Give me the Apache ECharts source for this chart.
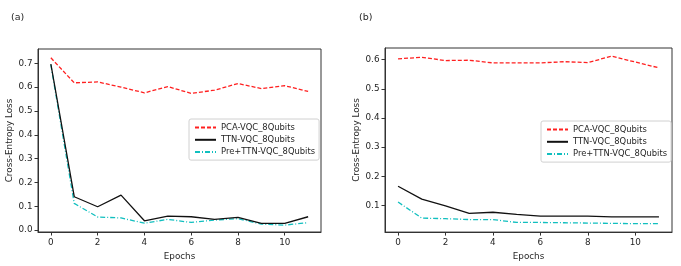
<!DOCTYPE html>
<html><head><meta charset="utf-8">
<script src="https://cdn.jsdelivr.net/npm/echarts@6/dist/echarts.min.js"></script>
<style>html,body{margin:0;padding:0;background:#fff}#c{width:681px;height:266px}</style>
</head><body><div id="c"></div>
<script>
const epochs = [0,1,2,3,4,5,6,7,8,9,10,11];
const xTicks = [0,2,4,6,8,10];
const seriesNames = ['PCA-VQC_8Qubits','TTN-VQC_8Qubits','Pre+TTN-VQC_8Qubits'];
// panel (a)
const aPCA = [0.723,0.618,0.622,0.600,0.576,0.602,0.574,0.587,0.615,0.594,0.606,0.582];
const aTTN = [0.697,0.140,0.098,0.147,0.039,0.059,0.056,0.045,0.053,0.028,0.028,0.056];
const aPre = [0.693,0.112,0.055,0.051,0.029,0.045,0.032,0.042,0.048,0.025,0.021,0.031];
const aYTicks = [0,0.1,0.2,0.3,0.4,0.5,0.6,0.7];
// panel (b)
const bPCA = [0.603,0.608,0.597,0.598,0.589,0.589,0.589,0.593,0.590,0.612,0.592,0.572];
const bTTN = [0.166,0.122,0.099,0.073,0.077,0.070,0.064,0.064,0.064,0.061,0.061,0.061];
const bPre = [0.112,0.057,0.055,0.052,0.052,0.042,0.042,0.041,0.040,0.039,0.038,0.038];
const bYTicks = [0.1,0.2,0.3,0.4,0.5,0.6];

const FONT = 'DejaVu Sans';
const TXT = '#262626';
const FS = 8.8;
const LFS = 8.4;
const colors = ['#ff2020','#111111','#11bfbf'];
const dashes = [[4,2],'solid',[5,2,1,2]];

function pair(vals){ return epochs.map((e,i)=>[e,vals[i]]); }

function xAxis(gi, gap){
  return {type:'value', gridIndex:gi, min:-0.55, max:11.55,
    name:'Epochs', nameLocation:'middle', nameGap:gap,
    nameTextStyle:{fontFamily:FONT,fontSize:FS,color:TXT},
    axisLine:{show:true,onZero:false,lineStyle:{color:'#333',width:1}},
    axisTick:{show:true,inside:false,length:3.5,lineStyle:{color:'#333'},customValues:xTicks},
    axisLabel:{fontFamily:FONT,fontSize:FS,color:TXT,margin:6,customValues:xTicks},
    splitLine:{show:false}};
}
function yAxis(gi, min, max, ticks, gap){
  return {type:'value', gridIndex:gi, min:min, max:max,
    name:'Cross-Entropy Loss', nameLocation:'middle', nameGap:gap, nameRotate:90,
    nameTextStyle:{fontFamily:FONT,fontSize:FS,color:TXT},
    axisLine:{show:true,onZero:false,lineStyle:{color:'#333',width:1}},
    axisTick:{show:true,inside:false,length:3.5,lineStyle:{color:'#333'},customValues:ticks},
    axisLabel:{fontFamily:FONT,fontSize:FS,color:TXT,margin:5.5,customValues:ticks,
      formatter:v=>v.toFixed(1)},
    splitLine:{show:false}};
}
function ser(gi, idx, vals){
  return {type:'line', name:seriesNames[idx], xAxisIndex:gi, yAxisIndex:gi,
    data:pair(vals), symbol:'none', showSymbol:false,
    lineStyle:{color:colors[idx], width:1.3, type:dashes[idx]},
    itemStyle:{color:colors[idx]}, z:3-idx, animation:false};
}
function legend(left, top){
  return {orient:'vertical', left:left, top:top, itemWidth:21, itemHeight:10, itemGap:2.3,
    padding:[3.5,4,3,5], backgroundColor:'#fff', borderColor:'#d0d0d0', borderWidth:1, borderRadius:2,
    itemStyle:{opacity:0},
    textStyle:{fontFamily:FONT,fontSize:LFS,color:TXT,lineHeight:10},
    data:seriesNames};
}

const chart = echarts.init(document.getElementById('c'), null, {renderer:'canvas'});
chart.setOption({
  animation:false,
  title:[
    {text:'(a)', left:6, top:8, textStyle:{fontFamily:FONT,fontSize:9.5,fontWeight:'normal',color:TXT}},
    {text:'(b)', left:354, top:8, textStyle:{fontFamily:FONT,fontSize:9.5,fontWeight:'normal',color:TXT}}
  ],
  grid:[
    {left:38, top:49, width:283, height:183, show:true, borderColor:'#333', borderWidth:1, backgroundColor:'transparent'},
    {left:385, top:48, width:287, height:187, show:true, borderColor:'#333', borderWidth:1, backgroundColor:'transparent'}
  ],
  xAxis:[xAxis(0,17), xAxis(1,15)],
  yAxis:[yAxis(0,-0.008,0.76,aYTicks,22), yAxis(1,0.009,0.64,bYTicks,23)],
  legend:[legend(189,119), legend(541,121)],
  series:[ser(0,0,aPCA), ser(0,1,aTTN), ser(0,2,aPre),
          ser(1,0,bPCA), ser(1,1,bTTN), ser(1,2,bPre)]
});
</script></body></html>
